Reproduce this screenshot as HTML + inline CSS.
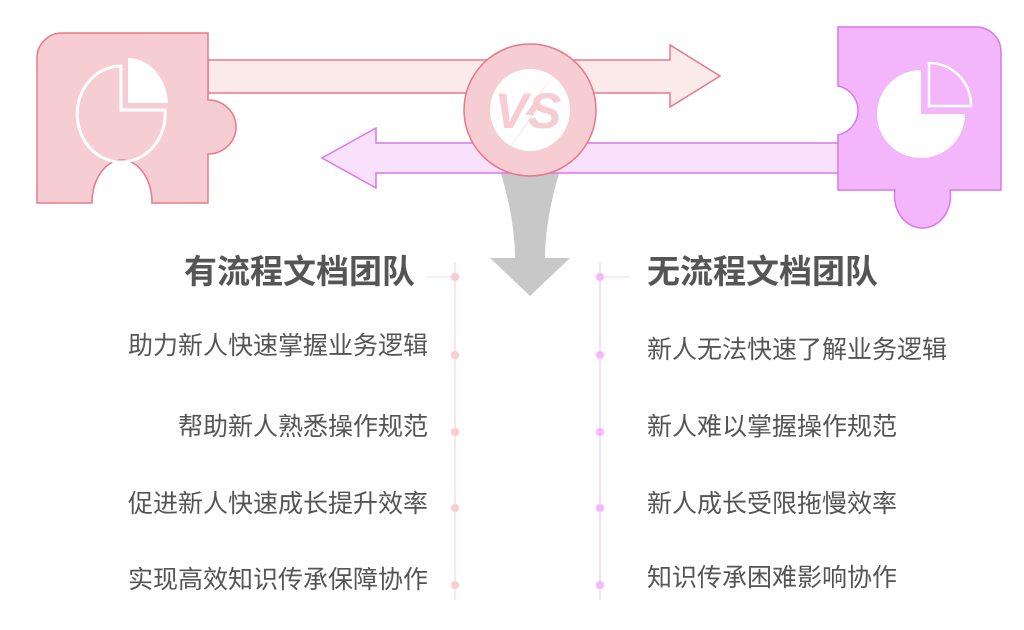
<!DOCTYPE html>
<html><head><meta charset="utf-8"><style>
body{margin:0;background:#fff;width:1024px;height:630px;overflow:hidden;position:relative;font-family:"Liberation Sans","Noto Sans CJK SC",sans-serif}
.t{position:absolute;color:#555;white-space:nowrap;line-height:1}
.l{right:596px;text-align:right}
.r{left:647px}
.h{font-size:33px;font-weight:bold;color:#555}
.i{font-size:25px}
</style></head><body>
<svg width="1024" height="630" style="position:absolute;left:0;top:0">
<path d="M500 170 Q515 220 515 258 L490 258 L530 296 L570 258 L545 258 Q545 220 560 170 Z" fill="#c8c8c8"/>
<path d="M208 60 L670 60 L670 45 L720 76 L670 107 L670 93 L208 93 Z" fill="#fbeaea" stroke="#e8788a" stroke-width="1.5"/>
<path d="M840 143 L376 143 L376 128 L322 158 L376 188 L376 173 L840 173 Z" fill="#f9e0fb" stroke="#d977ec" stroke-width="1.5"/>
<path d="M62 33 L208 33 L208 100 A28 27 0 0 1 208 154 L208 203 L152 203 A30 43 0 1 0 92 203 L37 203 L37 58 A25 25 0 0 1 62 33 Z" fill="#f5cdd2" stroke="#e8788a" stroke-width="1.5"/>
<path d="M121 66 A44 48 0 1 0 165 110 L121 110 Z" fill="none" stroke="#fff" stroke-width="3"/>
<path d="M128 58 A40 48 0 0 1 168 103 L128 103 Z" fill="#fff"/>
<path d="M838 27 L976 27 A25 25 0 0 1 1001 52 L1001 190 L950 190 A28 32 0 1 1 895 190 L838 190 L838 135 A25 25 0 0 0 838 86 Z" fill="#f3b6fb" stroke="#d977ec" stroke-width="1.5"/>
<path d="M921 70 A44 44 0 1 0 965 114 L921 114 Z" fill="#fff"/>
<path d="M929 63 A42 42 0 0 1 971 106 L929 106 Z" fill="none" stroke="#fff" stroke-width="2.5"/>
<ellipse cx="530" cy="110" rx="66" ry="66" fill="#f5cdd2" stroke="#e8788a" stroke-width="1.5"/>
<ellipse cx="530" cy="110" rx="40" ry="41" fill="#fff"/>
<text x="528" y="128" text-anchor="middle" font-family="Liberation Sans" font-weight="bold" font-style="italic" font-size="50" fill="#f5cdd2">VS</text>
<path d="M562 62 L525 115 L532 115 L498 165 L540 105 L533 105 Z" fill="#f5cdd2"/>
<line x1="455" y1="262" x2="455" y2="600" stroke="#f8dde0" stroke-width="1.5"/>
<line x1="600" y1="262" x2="600" y2="600" stroke="#f6d5f9" stroke-width="1.5"/>
<g fill="#f5cdd2" stroke="#f8dde0">
<line x1="425" y1="277" x2="455" y2="277"/>
<circle cx="455" cy="277" r="4"/><circle cx="455" cy="355" r="4"/><circle cx="455" cy="432" r="4"/><circle cx="455" cy="508" r="4"/><circle cx="455" cy="585" r="4"/>
</g>
<g fill="#f3b6fb" stroke="#f6d5f9">
<line x1="600" y1="277" x2="630" y2="277"/>
<circle cx="600" cy="277" r="4"/><circle cx="600" cy="355" r="4"/><circle cx="600" cy="432" r="4"/><circle cx="600" cy="508" r="4"/><circle cx="600" cy="585" r="4"/>
</g>
</svg>
<div class="t h" style="top:255px;right:609px">有流程文档团队</div>
<div class="t r h" style="top:255px">无流程文档团队</div>
<div class="t l i" style="top:334px">助力新人快速掌握业务逻辑</div>
<div class="t l i" style="top:415px">帮助新人熟悉操作规范</div>
<div class="t l i" style="top:492px">促进新人快速成长提升效率</div>
<div class="t l i" style="top:568px">实现高效知识传承保障协作</div>
<div class="t r i" style="top:338px">新人无法快速了解业务逻辑</div>
<div class="t r i" style="top:415px">新人难以掌握操作规范</div>
<div class="t r i" style="top:492px">新人成长受限拖慢效率</div>
<div class="t r i" style="top:566px">知识传承困难影响协作</div>
</body></html>
